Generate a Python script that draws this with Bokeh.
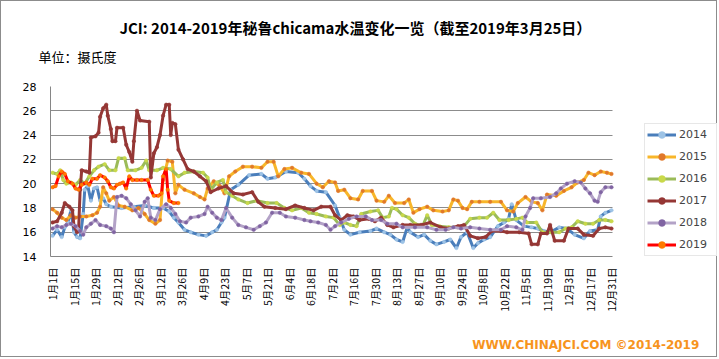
from bokeh.plotting import figure
from bokeh.models import (ColumnDataSource, FixedTicker, Legend, LegendItem, Range1d, Title)
from bokeh.embed import file_html
from bokeh.resources import INLINE

# ---------------- data ----------------
tick_days = [0, 14, 28, 42, 56, 70, 84, 98, 112, 126, 140, 154, 168, 182, 196, 210,
             224, 238, 252, 266, 280, 294, 308, 322, 336, 350, 364]
tick_labels = ["1月1日", "1月15日", "1月29日", "2月12日", "2月26日", "3月12日", "3月26日",
               "4月9日", "4月23日", "5月7日", "5月21日", "6月4日", "6月18日", "7月2日",
               "7月16日", "7月30日", "8月13日", "8月27日", "9月10日", "9月24日", "10月8日",
               "10月22日", "11月5日", "11月19日", "12月3日", "12月17日", "12月31日"]
y_ticks = [14, 16, 18, 20, 22, 24, 26, 28]

d2014 = [0, 3, 6, 8, 10, 12, 14, 16, 18, 20, 21, 23, 25, 27, 29, 31, 33, 35, 38, 45, 53, 60, 66, 72,
         76, 79, 82, 86, 90, 95, 100, 104, 107, 110, 112, 116, 121, 128, 136, 140, 145, 152, 160,
         164, 168, 172, 178, 184, 187, 190, 194, 200, 207, 211, 216, 220, 224, 228, 231, 233, 238,
         242, 246, 250, 255, 259, 263, 266, 270, 274, 277, 281, 285, 290, 294, 297, 299, 302, 307,
         312, 316, 320, 324, 330, 335, 340, 346, 350, 355, 357, 360, 364]
t2014 = [15.7, 16.2, 15.6, 16.4, 16.8, 17.8, 16.0, 15.6, 15.5, 17.5, 19.5, 19.8, 18.6, 19.6, 19.7,
         18.6, 18.8, 18.3, 18.1, 18.0, 18.1, 18.2, 18.0, 18.0, 17.7, 17.2, 16.8, 16.2, 16.0, 15.8,
         15.7, 16.0, 16.2, 16.8, 17.2, 19.5, 19.9, 20.7, 20.8, 20.4, 20.5, 21.0, 20.9, 20.4, 19.8,
         19.4, 19.3, 18.2, 17.2, 16.2, 15.8, 16.0, 16.1, 16.3, 16.0, 15.8, 15.4, 15.2, 16.4, 16.0,
         15.6, 15.8, 15.3, 15.0, 15.2, 15.4, 14.7, 15.6, 16.0, 14.7, 15.1, 15.4, 15.6, 16.5, 16.8,
         17.1, 18.3, 17.0, 16.5, 16.4, 16.3, 16.1, 16.0, 16.4, 16.3, 15.8, 15.5, 16.1, 16.2, 17.3,
         17.6, 17.8]

d2015 = [0, 3, 6, 9, 12, 15, 18, 22, 26, 29, 31, 33, 35, 37, 40, 43, 47, 52, 56, 60, 63, 67, 70,
         72, 75, 78, 80, 82, 86, 92, 96, 99, 101, 105, 109, 112, 115, 119, 124, 130, 136, 140, 144,
         147, 151, 156, 162, 167, 172, 176, 180, 184, 186, 190, 194, 199, 202, 208, 211, 216, 219,
         223, 229, 232, 235, 239, 244, 248, 254, 258, 261, 264, 267, 270, 273, 278, 285, 292, 296,
         300, 303, 308, 312, 316, 319, 322, 328, 333, 338, 342, 346, 349, 353, 357, 361, 364]
t2015 = [17.9, 17.6, 17.2, 17.0, 17.4, 17.2, 17.3, 17.3, 17.4, 17.6, 18.1, 19.7, 19.2, 18.6, 18.9,
         18.2, 18.1, 17.8, 18.0, 17.5, 17.0, 16.7, 17.0, 20.3, 21.9, 21.8, 19.2, 19.9, 19.5, 19.2,
         18.9, 18.7, 19.6, 20.2, 19.8, 19.2, 20.6, 21.0, 21.4, 21.4, 21.3, 21.8, 21.8, 20.6, 21.2,
         21.3, 20.9, 20.8, 20.0, 19.7, 20.2, 20.1, 19.4, 19.5, 18.8, 18.7, 19.4, 19.4, 18.6, 18.5,
         19.0, 18.4, 18.4, 18.7, 17.6, 17.9, 18.1, 17.8, 17.7, 17.8, 18.7, 18.6, 18.0, 17.9, 18.5,
         18.5, 18.5, 18.5, 17.8, 17.7, 18.4, 18.9, 18.5, 18.4, 17.8, 19.1, 19.0, 19.4, 19.7, 20.1,
         20.3, 20.9, 20.7, 21.0, 20.9, 20.8]

d2016 = [0, 3, 5, 7, 9, 12, 15, 18, 21, 24, 27, 30, 34, 37, 41, 43, 47, 49, 54, 58, 61, 63, 68,
         72, 77, 82, 86, 92, 98, 101, 103, 107, 111, 113, 117, 121, 127, 133, 140, 146, 151, 156,
         162, 167, 172, 178, 183, 187, 190, 194, 198, 201, 207, 212, 215, 219, 221, 224, 228, 232,
         236, 241, 244, 247, 252, 258, 264, 268, 272, 278, 283, 287, 291, 297, 302, 306, 309, 315,
         319, 325, 330, 334, 338, 342, 347, 352, 356, 360, 364]
t2016 = [20.9, 20.8, 21.1, 20.3, 20.0, 20.1, 19.9, 20.3, 20.0, 20.6, 21.1, 21.4, 21.6, 21.1, 21.1,
         22.1, 22.1, 21.1, 21.1, 21.3, 21.9, 21.1, 21.1, 21.3, 21.2, 20.6, 20.9, 21.0, 20.9, 20.5,
         19.5, 20.1, 20.3, 19.3, 19.0, 18.7, 18.4, 18.6, 18.4, 18.4, 18.0, 17.8, 18.0, 17.6, 17.5,
         17.3, 17.2, 16.6, 16.8, 16.6, 16.5, 17.5, 17.7, 17.8, 17.2, 17.3, 18.0, 17.9, 17.4, 17.2,
         16.7, 16.5, 17.4, 16.6, 16.5, 16.4, 16.4, 16.5, 17.1, 17.2, 17.2, 17.6, 17.0, 17.0, 17.1,
         17.2, 16.8, 16.8, 16.0, 16.0, 16.0, 16.3, 16.4, 16.9, 16.7, 16.7, 17.0, 17.0, 16.9]

d2017 = [0, 3, 6, 8, 11, 13, 14, 16, 17, 18, 19, 22, 24, 25, 28, 30, 31, 33, 35, 36, 38, 39, 41,
         42, 46, 48, 50, 52, 53, 55, 57, 63, 64, 66, 68, 70, 72, 74, 76, 77, 78, 80, 82, 85, 88, 92,
         96, 100, 103, 108, 113, 118, 124, 130, 134, 138, 145, 152, 158, 164, 170, 175, 181, 184,
         188, 192, 196, 200, 206, 210, 214, 218, 222, 228, 233, 240, 246, 253, 258, 264, 268, 272,
         277, 282, 286, 292, 296, 304, 310, 312, 316, 318, 322, 324, 327, 333, 336, 342, 346, 352,
         356, 360, 364]
t2017 = [16.8, 16.9, 17.6, 18.4, 18.1, 17.8, 16.5, 16.0, 16.2, 19.5, 21.1, 21.0, 20.9, 23.8, 23.9,
         24.2, 25.5, 26.2, 26.5, 25.6, 24.5, 23.5, 23.5, 24.6, 24.6, 23.2, 22.6, 21.8, 23.5, 26.0,
         25.2, 25.1, 20.5, 22.5, 23.0, 24.0, 25.6, 26.5, 26.5, 24.0, 25.0, 24.9, 22.8, 22.0, 21.2,
         21.0, 20.6, 20.2, 19.3, 19.6, 19.8, 19.2, 19.1, 19.3, 18.5, 18.1, 18.0, 17.9, 18.2, 18.0,
         17.8, 18.1, 18.1, 17.4, 17.0, 17.4, 17.3, 17.0, 17.1, 16.9, 17.2, 16.6, 16.4, 16.6, 16.6,
         16.6, 16.8, 16.4, 16.3, 16.5, 16.6, 15.7, 15.5, 15.6, 16.1, 16.1, 16.0, 16.0, 15.9, 15.0,
         15.0, 15.9, 15.9, 16.6, 15.3, 15.3, 16.3, 16.3, 15.8, 15.7, 16.3, 16.4, 16.3]

d2018 = [0, 3, 6, 9, 12, 15, 18, 20, 22, 25, 28, 31, 35, 38, 40, 42, 45, 48, 51, 54, 57, 60, 62,
         64, 67, 70, 74, 77, 80, 83, 87, 90, 95, 99, 101, 104, 107, 110, 113, 117, 121, 126, 131,
         135, 139, 143, 148, 152, 158, 164, 168, 173, 178, 181, 184, 188, 193, 198, 204, 208, 214,
         218, 224, 228, 236, 244, 250, 256, 261, 266, 272, 278, 285, 292, 296, 302, 306, 308, 311,
         313, 318, 324, 328, 331, 335, 340, 344, 347, 350, 353, 355, 357, 360, 364]
t2018 = [16.3, 16.5, 16.4, 16.6, 16.7, 16.5, 16.1, 15.8, 16.4, 16.7, 17.0, 16.6, 16.5, 16.3, 16.0,
         18.9, 19.0, 18.8, 18.3, 17.8, 17.3, 18.5, 18.8, 17.2, 17.0, 17.9, 18.3, 18.0, 17.5, 16.9,
         16.8, 17.2, 17.3, 17.5, 18.1, 17.6, 17.2, 17.0, 18.0, 17.2, 16.6, 16.4, 16.2, 16.5, 16.8,
         17.6, 17.6, 17.3, 17.2, 17.0, 16.9, 16.8, 16.6, 16.2, 16.5, 16.8, 17.1, 17.3, 17.3, 17.0,
         17.0, 16.7, 16.7, 16.4, 16.4, 16.4, 16.2, 16.2, 16.4, 16.3, 16.4, 16.3, 16.2, 16.2, 16.5,
         16.4, 16.2, 17.3, 18.0, 18.8, 18.8, 18.9, 19.2, 19.6, 20.0, 20.2, 20.1, 19.6, 19.2, 18.6,
         18.5, 19.3, 19.7, 19.7]

d2019 = [0, 2, 4, 6, 8, 10, 13, 15, 17, 19, 22, 24, 26, 29, 31, 34, 36, 38, 40, 42, 44, 46, 48,
         50, 52, 55, 58, 62, 64, 66, 69, 71, 72, 74, 75, 76, 79, 82]
t2019 = [19.7, 19.8, 20.6, 21.0, 20.8, 20.2, 20.0, 19.6, 19.5, 19.9, 20.1, 19.9, 20.4, 20.4, 20.7,
         20.5, 20.2, 19.7, 19.6, 19.9, 20.0, 20.1, 19.6, 20.6, 20.3, 20.3, 20.3, 20.3, 19.5, 19.0,
         19.0, 19.2, 20.6, 21.2, 19.5, 18.6, 18.4, 18.4]

series_names = ["2014", "2015", "2016", "2017", "2018", "2019"]
series_days = [d2014, d2015, d2016, d2017, d2018, d2019]
series_temps = [t2014, t2015, t2016, t2017, t2018, t2019]

title_text = "JCI: 2014-2019年秘鲁chicama水温变化一览（截至2019年3月25日）"
unit_text = "单位：摄氏度"
footer_text = "WWW.CHINAJCI.COM  ©2014-2019"

# ---------------- styles ----------------
line_colors = ["#4A7EBB", "#F8B62A", "#9BBB59", "#953735", "#B3A2C7", "#FF0000"]
marker_colors = ["#9DC3E6", "#E0782A", "#C9D94A", "#953735", "#8064A2", "#FF7A00"]

W, H = 717, 357
FL, FT, FB = 49, 85, 101          # frame borders (canvas px); frame runs to the right edge
PX_PER_DAY = 559 / 364.0
X0 = -2 / PX_PER_DAY              # plot-area left edge in days
X1 = 364 + 1 / PX_PER_DAY         # plot-area right edge in days
XEND = X0 + (W - FL) / PX_PER_DAY  # frame right edge (canvas edge)

p = figure(width=W, height=H, output_backend="svg", toolbar_location=None,
           x_range=Range1d(X0, XEND), y_range=Range1d(14, 28),
           min_border_left=FL, min_border_right=0, min_border_top=FT, min_border_bottom=FB)
p.styles = {"border": "1px solid #8C8C8C"}
p.background_fill_color = "white"
p.border_fill_color = "white"
p.outline_line_color = None

# main title (outermost in the "above" panel)
p.title.text = title_text
p.title.text_font = "Noto Sans CJK SC"
p.title.text_font_style = "bold"
p.title.text_font_size = "15px"
p.title.text_color = "#000000"
p.title.align = "left"
p.title.offset = 69
p.title.vertical_align = "bottom"
try:
    p.title.standoff = -20
except Exception:
    p.title.standoff = 0

# unit label (closest to the plot in the "above" panel)
p.add_layout(Title(text=unit_text, text_font="Noto Sans CJK SC", text_font_size="13px",
                   text_font_style="normal", text_color="#000000", align="left", offset=-12,
                   vertical_align="top", standoff=38), "above")

# footer (below the x axis)
p.add_layout(Title(text=footer_text, text_font="DejaVu Sans", text_font_size="12px",
                   text_font_style="bold", text_color="#F7941D", align="right", offset=15,
                   vertical_align="bottom", standoff=14), "below")

# axes & grid, limited to the plot area
p.xgrid.grid_line_color = None
p.ygrid.grid_line_color = "#8C8C8C"
p.ygrid.grid_line_width = 1
p.ygrid.ticker = FixedTicker(ticks=y_ticks)
p.ygrid.cross_bounds = (X0, X1)
p.yaxis.ticker = FixedTicker(ticks=y_ticks)
p.xaxis.ticker = FixedTicker(ticks=tick_days)
p.xaxis.bounds = (X0, X1)
p.xaxis.major_label_overrides = {d: l for d, l in zip(tick_days, tick_labels)}
p.xaxis.major_label_orientation = 3.14159265 / 2
p.xaxis.axis_label = " "
p.xaxis.axis_label_text_font_size = "8px"
p.xaxis.axis_label_standoff = 2
for ax in (p.xaxis[0], p.yaxis[0]):
    ax.axis_line_color = "#868686"
    ax.major_tick_line_color = None
    ax.minor_tick_line_color = None
    ax.major_label_text_color = "#000000"
p.xaxis.major_label_text_font = "Noto Sans CJK SC"
p.xaxis.major_label_text_font_size = "10.5px"
p.xaxis.major_label_standoff = 5
p.yaxis.major_label_text_font = "DejaVu Sans"
p.yaxis.major_label_text_font_size = "11px"
p.yaxis.major_label_standoff = 8

items = []
for name, dd, tt, lc, mc in zip(series_names, series_days, series_temps, line_colors, marker_colors):
    src = ColumnDataSource(dict(x=dd, y=tt))
    lr = p.line("x", "y", source=src, line_color=lc, line_width=3)
    sr = p.scatter("x", "y", source=src, size=3.5, fill_color=mc, line_color=mc, line_width=0.5)
    items.append(LegendItem(label=name, renderers=[lr, sr]))

legend = Legend(items=items, location=(594, 0), orientation="vertical",
                glyph_width=29, glyph_height=17, label_height=17, spacing=5,
                padding=2, margin=0, label_standoff=3, label_width=35,
                label_text_font="DejaVu Sans", label_text_font_size="11px",
                border_line_color="#D0D0D0", background_fill_color="white", background_fill_alpha=1)
p.add_layout(legend, "center")

open("out.html", "w").write(file_html(p, INLINE))
